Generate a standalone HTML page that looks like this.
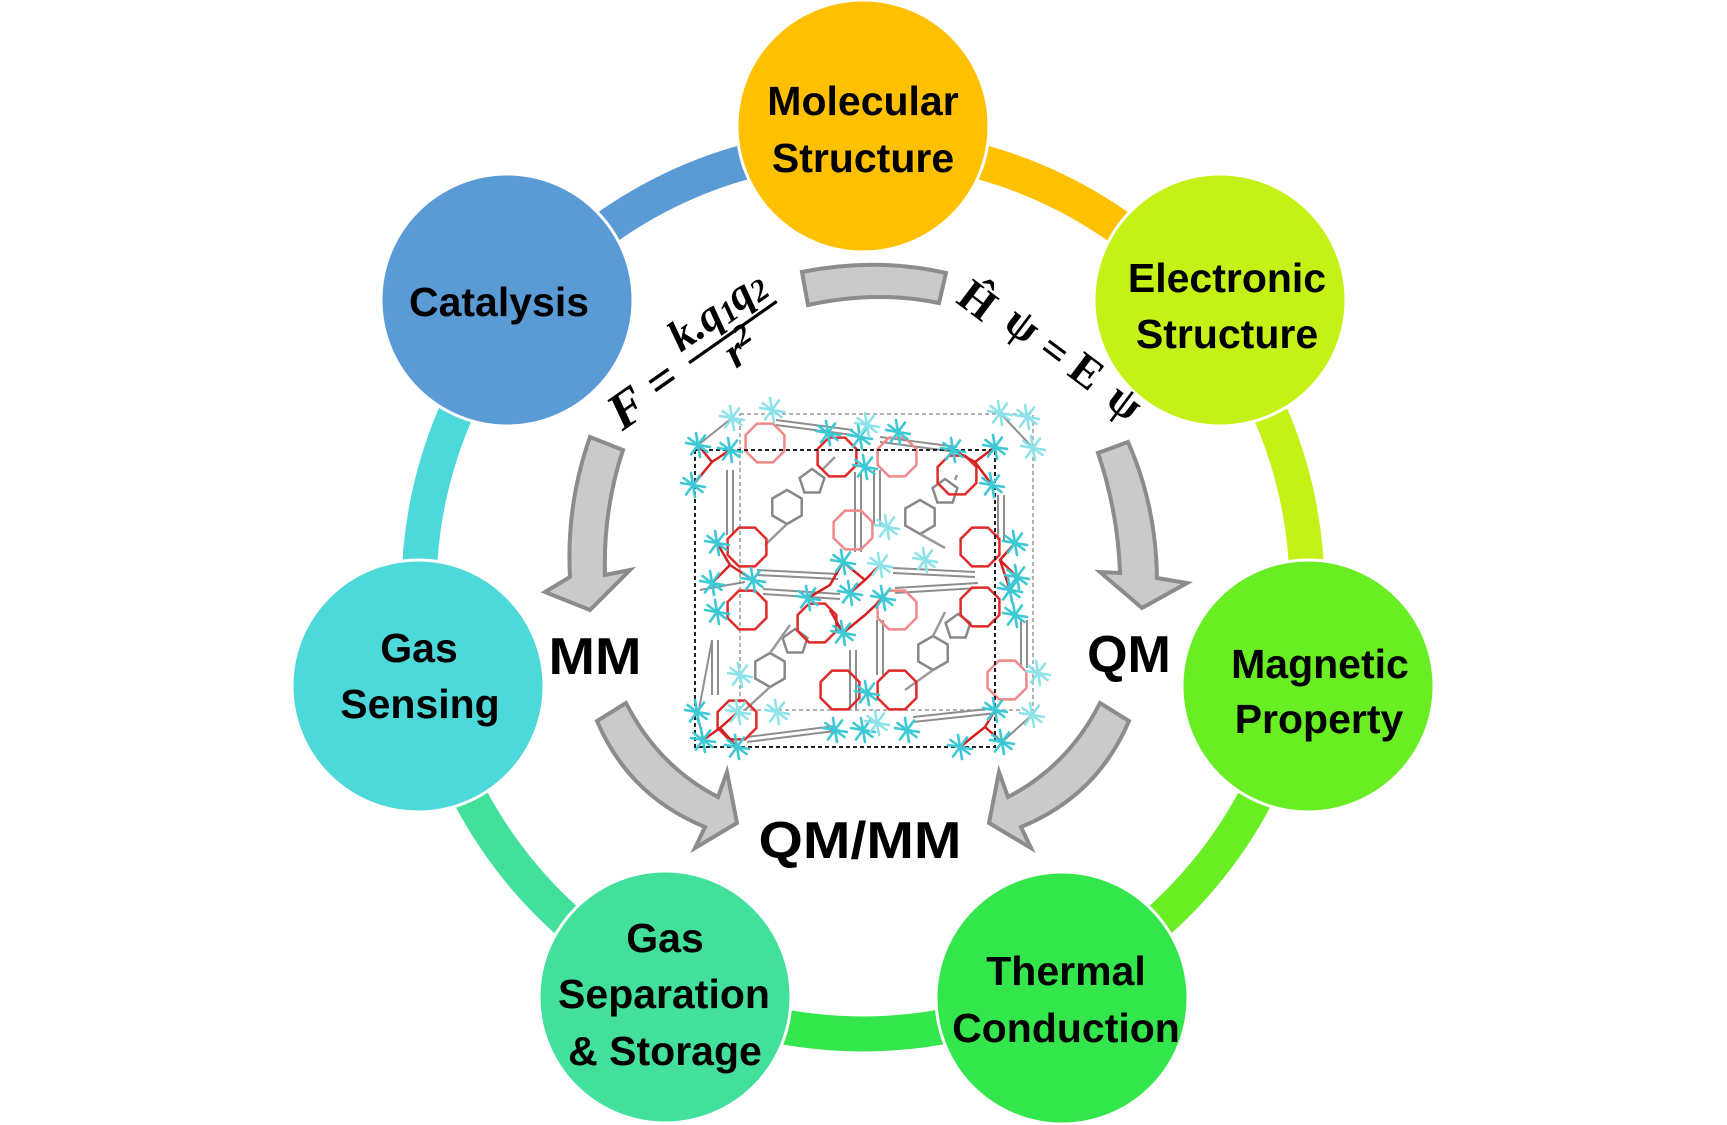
<!DOCTYPE html>
<html>
<head>
<meta charset="utf-8">
<style>
html,body{margin:0;padding:0;background:#ffffff;}
svg{display:block;}
.lbl{font-family:"Liberation Sans",Arial,sans-serif;font-weight:bold;font-size:41px;fill:#000;text-anchor:middle;}
.big{font-family:"Liberation Sans",Arial,sans-serif;font-weight:bold;font-size:52px;fill:#000;text-anchor:middle;}
.eq{font-family:"Liberation Serif","Times New Roman",serif;font-weight:bold;fill:#000;}
.arr{fill:#cacaca;stroke:#8c8c8c;stroke-width:4;stroke-linejoin:miter;}
</style>
</head>
<body>
<svg width="1727" height="1125" viewBox="0 0 1727 1125" xmlns="http://www.w3.org/2000/svg" xmlns:xlink="http://www.w3.org/1999/xlink">
<defs>
  <g id="ast" stroke-width="2.6" stroke-linecap="round">
    <line x1="-12" y1="-2" x2="12" y2="2"/>
    <line x1="-2" y1="-12" x2="2" y2="12"/>
    <line x1="-9.5" y1="-7" x2="9.5" y2="7"/>
    <line x1="-7" y1="9.5" x2="7" y2="-9.5"/>
  </g>
  <polygon id="oct" points="19.4,8 8,19.4 -8,19.4 -19.4,8 -19.4,-8 -8,-19.4 8,-19.4 19.4,-8" fill="none" stroke-width="2.5"/>
  <polygon id="hex" points="0,-17 14.7,-8.5 14.7,8.5 0,17 -14.7,8.5 -14.7,-8.5" fill="none" stroke-width="2.5"/>
  <polygon id="pent" points="0,-13 12.4,-4 7.6,10.5 -7.6,10.5 -12.4,-4" fill="none" stroke-width="2.5"/>
</defs>

<!-- ring segments -->
<g fill="none" stroke-width="35">
  <path d="M863 146 A444 444 0 0 1 1210.1 313.2" stroke="#ffc000"/>
  <path d="M1210.1 313.2 A444 444 0 0 1 1295.9 688.8" stroke="#c5f216"/>
  <path d="M1295.9 688.8 A444 444 0 0 1 1055.6 990" stroke="#69ee24"/>
  <path d="M1055.6 990 A444 444 0 0 1 670.4 990" stroke="#33e64b"/>
  <path d="M670.4 990 A444 444 0 0 1 430.1 688.8" stroke="#43e09c"/>
  <path d="M430.1 688.8 A444 444 0 0 1 515.9 313.2" stroke="#4dd8da"/>
  <path d="M515.9 313.2 A444 444 0 0 1 863 146" stroke="#5b9bd5"/>
</g>

<!-- node circles -->
<g stroke="#ffffff" stroke-width="3">
  <circle cx="863" cy="126" r="126" fill="#ffc000"/>
  <circle cx="1220" cy="300" r="126" fill="#c5f216"/>
  <circle cx="1308" cy="686" r="126" fill="#69ee24"/>
  <circle cx="1062" cy="998" r="126" fill="#33e64b"/>
  <circle cx="665" cy="997" r="126" fill="#43e09c"/>
  <circle cx="418" cy="686" r="126" fill="#4dd8da"/>
  <circle cx="507" cy="300" r="126" fill="#5b9bd5"/>
</g>

<!-- node labels -->
<text class="lbl" x="863" y="115">Molecular</text>
<text class="lbl" x="863" y="172">Structure</text>
<text class="lbl" x="1227" y="292">Electronic</text>
<text class="lbl" x="1227" y="348">Structure</text>
<text class="lbl" x="499" y="316">Catalysis</text>
<text class="lbl" x="419" y="662">Gas</text>
<text class="lbl" x="420" y="718">Sensing</text>
<text class="lbl" x="1320" y="678">Magnetic</text>
<text class="lbl" x="1319" y="733">Property</text>
<text class="lbl" x="665" y="952">Gas</text>
<text class="lbl" x="664" y="1008">Separation</text>
<text class="lbl" x="665" y="1065">&amp; Storage</text>
<text class="lbl" x="1066" y="985">Thermal</text>
<text class="lbl" x="1066" y="1042">Conduction</text>

<!-- gray arrows -->
<path class="arr" d="M802 272 Q876 257 946 273 L939 303 Q876 290 808 305 Z"/>
<path class="arr" d="M590 437 L623 450 Q603 510 605 575 L630 570 L590 610 L545 592 L570 577 Q566 505 590 437 Z"/>
<path class="arr" d="M1128 442 L1098 453 Q1118 512 1120 573 L1100 572 L1142 608 L1187 583 L1157 578 Q1156 505 1128 442 Z"/>
<path class="arr" d="M626 703 Q658 766 718 797 L727 772 L737 823 L695 848 L705 827 Q629 796 597 721 Z"/>
<path class="arr" transform="translate(1726,0) scale(-1,1)" d="M626 703 Q658 766 718 797 L727 772 L737 823 L695 848 L705 827 Q629 796 597 721 Z"/>

<!-- MM / QM / QM/MM -->
<text class="big" x="595" y="674" textLength="93" lengthAdjust="spacingAndGlyphs">MM</text>
<text class="big" x="1129" y="672">QM</text>
<text class="big" x="860" y="858" textLength="203" lengthAdjust="spacingAndGlyphs">QM/MM</text>

<!-- left equation -->
<g transform="translate(626,407) rotate(-35)">
  <text class="eq" x="-17" y="18" font-size="52" font-style="italic">F</text>
  <text class="eq" x="45" y="15" font-size="50" text-anchor="middle">=</text>
  <line x1="77" y1="0" x2="184" y2="0" stroke="#000" stroke-width="3.2"/>
  <text class="eq" x="130" y="-13" font-size="44" font-style="italic" text-anchor="middle">k.q<tspan font-size="31" dy="4">1</tspan><tspan dy="-4">q</tspan><tspan font-size="31" dy="4">2</tspan></text>
  <text class="eq" x="128" y="32" font-size="44" font-style="italic" text-anchor="middle">r<tspan font-size="30" dy="-15">2</tspan></text>
</g>

<!-- right equation -->
<g transform="translate(980,297) rotate(37)">
  <text class="eq" x="0" y="19" font-size="45" text-anchor="middle">Ĥ</text>
  <text class="eq" x="51" y="11" font-size="45" text-anchor="middle">ψ</text>
  <text class="eq" x="92" y="13" font-size="45" text-anchor="middle">=</text>
  <text class="eq" x="130" y="10" font-size="45" text-anchor="middle">E</text>
  <text class="eq" x="179" y="11" font-size="45" text-anchor="middle">ψ</text>
</g>

<!-- molecular structure -->
<g>
  <rect x="740" y="414" width="293" height="296" fill="none" stroke="#9a9a9a" stroke-width="1.5" stroke-dasharray="4 3"/>
  <!-- gray linkers -->
  <g stroke="#8e8e8e" stroke-width="2" fill="none">
    <path d="M776 420 L853 430 M776 425 L853 435"/>
    <path d="M880 437 L957 447 M880 442 L957 452"/>
    <path d="M757 570 L838 574 M757 575 L838 579"/>
    <path d="M763 589 L840 594 M763 594 L840 599"/>
    <path d="M893 568 L975 572 M893 573 L975 577"/>
    <path d="M895 588 L978 583 M895 593 L978 588"/>
    <path d="M747 742 L835 731 M747 737 L835 726"/>
    <path d="M913 722 L997 713 M913 717 L997 708"/>
    <path d="M727 470 L727 535 M733 470 L733 535"/>
    <path d="M712 640 L712 695 M718 640 L718 695"/>
    <path d="M855 472 L855 552 M861 472 L861 552"/>
    <path d="M874 470 L874 525 M880 470 L880 525"/>
    <path d="M850 650 L850 710 M856 650 L856 710"/>
    <path d="M877 620 L877 675 M883 620 L883 675"/>
    <path d="M998 495 L998 540 M1004 495 L1004 540"/>
    <path d="M1021 620 L1021 668 M1027 620 L1027 668"/>
    <path d="M700 590 L745 582 M697 720 L712 640"/>
    <path d="M732 418 L698 445 M1000 413 L1033 448 M1032 715 L1002 742 M697 712 L703 740"/>
  </g>
  <!-- hexagons / pentagons -->
  <g stroke="#888888">
    <use xlink:href="#hex" href="#hex" x="787" y="507"/>
    <use xlink:href="#hex" href="#hex" x="920" y="517"/>
    <use xlink:href="#hex" href="#hex" x="770" y="670"/>
    <use xlink:href="#hex" href="#hex" x="933" y="653"/>
    <use xlink:href="#pent" href="#pent" x="812" y="482"/>
    <use xlink:href="#pent" href="#pent" x="945" y="492"/>
    <use xlink:href="#pent" href="#pent" x="795" y="642"/>
    <use xlink:href="#pent" href="#pent" x="958" y="627"/>
  </g>
  <g stroke="#9a9a9a" stroke-width="2.5" fill="none">
    <path d="M787 524 L765 545 M822 470 L835 457 M920 534 L945 548 M955 480 L957 475"/>
    <path d="M770 653 L790 625 M770 687 L745 710 M933 636 L945 612 M933 670 L905 690"/>
  </g>
  <!-- red rings -->
  <g stroke="#e02a2a">
    <use xlink:href="#oct" href="#oct" x="837" y="457"/>
    <use xlink:href="#oct" href="#oct" x="957" y="475"/>
    <use xlink:href="#oct" href="#oct" x="747" y="547"/>
    <use xlink:href="#oct" href="#oct" x="980" y="547"/>
    <use xlink:href="#oct" href="#oct" x="747" y="610"/>
    <use xlink:href="#oct" href="#oct" x="817" y="623"/>
    <use xlink:href="#oct" href="#oct" x="980" y="607"/>
    <use xlink:href="#oct" href="#oct" x="737" y="720"/>
    <use xlink:href="#oct" href="#oct" x="840" y="690"/>
    <use xlink:href="#oct" href="#oct" x="897" y="690"/>
  </g>
  <g stroke="#f08888">
    <use xlink:href="#oct" href="#oct" x="765" y="443"/>
    <use xlink:href="#oct" href="#oct" x="897" y="457"/>
    <use xlink:href="#oct" href="#oct" x="853" y="530"/>
    <use xlink:href="#oct" href="#oct" x="897" y="610"/>
    <use xlink:href="#oct" href="#oct" x="1007" y="680"/>
  </g>
  <g stroke="#d42020" stroke-width="2.5" fill="none">
    <path d="M698 445 L712 462 L693 485 M730 450 L712 462"/>
    <path d="M953 450 L975 462 L995 447 M975 462 L992 485"/>
    <path d="M843 562 L830 585 L808 598 M843 562 L865 580 L850 593 M880 565 L865 580"/>
    <path d="M843 633 L830 610 M843 633 L865 615 L883 598"/>
    <path d="M703 740 L720 728 L738 712 M737 747 L720 728"/>
    <path d="M995 710 L985 727 L960 747 M985 727 L1002 742"/>
    <path d="M1015 543 L1000 560 L1017 577 M1010 590 L1000 560"/>
    <path d="M717 543 L730 565 L712 583 M753 580 L730 565"/>
  </g>
  <rect x="695" y="450" width="300" height="297" fill="none" stroke="#222" stroke-width="2" stroke-dasharray="4 3"/>
  <!-- cyan asterisks -->
  <g stroke="#3cc8d4">
    <use href="#ast" xlink:href="#ast" x="698" y="445"/>
    <use href="#ast" xlink:href="#ast" x="730" y="450"/>
    <use href="#ast" xlink:href="#ast" x="693" y="485"/>
    <use href="#ast" xlink:href="#ast" x="828" y="433"/>
    <use href="#ast" xlink:href="#ast" x="860" y="437"/>
    <use href="#ast" xlink:href="#ast" x="898" y="432"/>
    <use href="#ast" xlink:href="#ast" x="953" y="450"/>
    <use href="#ast" xlink:href="#ast" x="995" y="447"/>
    <use href="#ast" xlink:href="#ast" x="865" y="467"/>
    <use href="#ast" xlink:href="#ast" x="992" y="485"/>
    <use href="#ast" xlink:href="#ast" x="1015" y="543"/>
    <use href="#ast" xlink:href="#ast" x="717" y="543"/>
    <use href="#ast" xlink:href="#ast" x="843" y="562"/>
    <use href="#ast" xlink:href="#ast" x="712" y="583"/>
    <use href="#ast" xlink:href="#ast" x="753" y="580"/>
    <use href="#ast" xlink:href="#ast" x="1017" y="577"/>
    <use href="#ast" xlink:href="#ast" x="1010" y="590"/>
    <use href="#ast" xlink:href="#ast" x="808" y="598"/>
    <use href="#ast" xlink:href="#ast" x="850" y="593"/>
    <use href="#ast" xlink:href="#ast" x="883" y="598"/>
    <use href="#ast" xlink:href="#ast" x="717" y="612"/>
    <use href="#ast" xlink:href="#ast" x="1015" y="615"/>
    <use href="#ast" xlink:href="#ast" x="843" y="633"/>
    <use href="#ast" xlink:href="#ast" x="867" y="693"/>
    <use href="#ast" xlink:href="#ast" x="697" y="712"/>
    <use href="#ast" xlink:href="#ast" x="995" y="710"/>
    <use href="#ast" xlink:href="#ast" x="703" y="740"/>
    <use href="#ast" xlink:href="#ast" x="737" y="747"/>
    <use href="#ast" xlink:href="#ast" x="835" y="730"/>
    <use href="#ast" xlink:href="#ast" x="863" y="730"/>
    <use href="#ast" xlink:href="#ast" x="907" y="730"/>
    <use href="#ast" xlink:href="#ast" x="960" y="747"/>
    <use href="#ast" xlink:href="#ast" x="1002" y="742"/>
  </g>
  <g stroke="#8ee3ea">
    <use href="#ast" xlink:href="#ast" x="732" y="418"/>
    <use href="#ast" xlink:href="#ast" x="772" y="410"/>
    <use href="#ast" xlink:href="#ast" x="867" y="425"/>
    <use href="#ast" xlink:href="#ast" x="1000" y="413"/>
    <use href="#ast" xlink:href="#ast" x="1027" y="417"/>
    <use href="#ast" xlink:href="#ast" x="1033" y="448"/>
    <use href="#ast" xlink:href="#ast" x="887" y="527"/>
    <use href="#ast" xlink:href="#ast" x="880" y="565"/>
    <use href="#ast" xlink:href="#ast" x="925" y="560"/>
    <use href="#ast" xlink:href="#ast" x="740" y="675"/>
    <use href="#ast" xlink:href="#ast" x="1038" y="673"/>
    <use href="#ast" xlink:href="#ast" x="738" y="712"/>
    <use href="#ast" xlink:href="#ast" x="777" y="712"/>
    <use href="#ast" xlink:href="#ast" x="877" y="723"/>
    <use href="#ast" xlink:href="#ast" x="1032" y="715"/>
  </g>
</g>
</svg>
</body>
</html>
